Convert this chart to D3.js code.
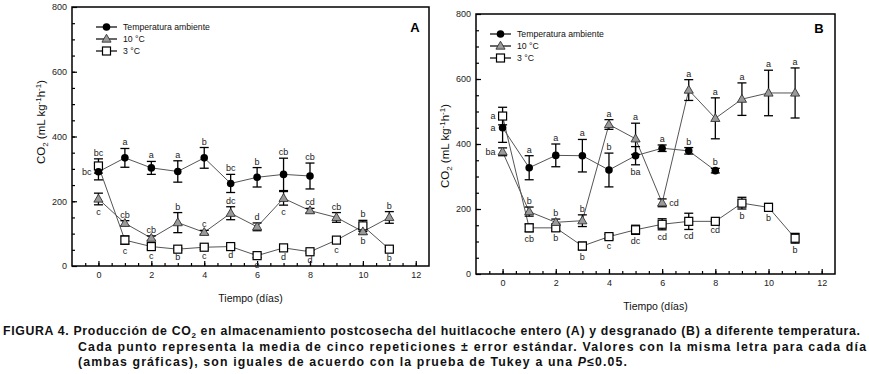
<!DOCTYPE html>
<html>
<head>
<meta charset="utf-8">
<script src="https://cdn.jsdelivr.net/npm/d3@7"></script>
<style>
body { margin: 0; background: #fff; }
svg { display: block; font-family: "Liberation Sans", Arial, sans-serif; }
</style>
</head>
<body>
<div id="chart"></div>
<script>
// Days
const days = d3.range(0, 12);
const daysAmbient = d3.range(0, 9);

// Series names
const seriesNames = ["Temperatura ambiente", "10 \u00B0C", "3 \u00B0C"];

// Axis ticks
const yMajorTicks = [0, 200, 400, 600, 800];
const xMajorTicks = [0, 2, 4, 6, 8, 10, 12];

// Panel A (entero)
const aAmbientMean = [291, 334, 303, 292, 334, 255, 274, 283, 278];
const aAmbientErr = [25, 29, 20, 33, 32, 28, 30, 50, 40];
const aAmbientLetters = ["bc", "a", "a", "a", "b", "bc", "b", "cb", "cb"];
const aAmbientPos = ["l", "u", "u", "u", "u", "u", "u", "u", "u"];

const a10Mean = [207, 132, 86, 134, 104, 163, 121, 209, 171, 150, 106, 150];
const a10Err = [18, 8, 7, 31, 6, 20, 12, 21, 7, 15, 8, 18];
const a10Letters = ["c", "cb", "cb", "b", "c", "dc", "d", "c", "cd", "cb", "b", "b"];
const a10Pos = ["d", "u", "u", "u", "u", "u", "u", "d", "u", "u", "d", "u"];

const a3Mean = [309, 80, 60, 52, 58, 60, 32, 56, 44, 80, 124, 52];
const a3Err = [22, 13, 8, 4, 6, 5, 6, 6, 4, 8, 17, 6];
const a3Letters = ["bc", "c", "c", "b", "c", "d", "e", "d", "d", "c", "b", "b"];
const a3Pos = ["u", "d", "d", "d", "d", "d", "d", "d", "d", "d", "u", "d"];

// Panel B (desgranado)
const bAmbientMean = [450, 327, 365, 364, 320, 364, 387, 379, 318];
const bAmbientErr = [45, 37, 35, 50, 52, 28, 10, 10, 7];
const bAmbientLetters = ["a", "a", "a", "a", "b", "ba", "a", "b", "b"];
const bAmbientPos = ["l", "u", "u", "u", "u", "d", "u", "u", "u"];

const b10Mean = [376, 192, 159, 164, 460, 416, 219, 566, 479, 538, 557, 557];
const b10Err = [12, 14, 10, 18, 15, 48, 12, 32, 63, 50, 70, 77];
const b10Letters = ["ba", "b", "b", "b", "a", "a", "cd", "a", "a", "a", "a", "a"];
const b10Pos = ["l", "u", "u", "u", "u", "u", "r", "u", "u", "u", "u", "u"];

const b3Mean = [486, 142, 142, 86, 115, 136, 153, 162, 162, 218, 205, 110];
const b3Err = [27, 12, 10, 12, 7, 14, 17, 25, 5, 18, 12, 15];
const b3Letters = ["a", "cb", "b", "b", "c", "dc", "cd", "cd", "cd", "b", "b", "b"];
const b3Pos = ["l", "d", "d", "d", "d", "d", "d", "d", "d", "d", "d", "d"];

const W = 869, H = 374;
const svg = d3.select("#chart").append("svg")
    .attr("width", W)
    .attr("height", H);

svg.append("rect").attr("width", W).attr("height", H).attr("fill", "#fff");

// draw one marker of a given type
function marker(g, type, cx, cy) {
    if (type === "circle") {
        g.append("circle").attr("cx", cx).attr("cy", cy).attr("r", 3.8).attr("fill", "#000");
    } else if (type === "tri") {
        g.append("path")
            .attr("d", d3.symbol(d3.symbolTriangle).size(36)())
            .attr("transform", `translate(${cx},${cy + 0.5})`)
            .attr("fill", "#9a9a9a")
            .attr("stroke", "#333")
            .attr("stroke-width", 0.9);
    } else {
        g.append("rect")
            .attr("x", cx - 4).attr("y", cy - 4)
            .attr("width", 8).attr("height", 8)
            .attr("fill", "#fff")
            .attr("stroke", "#000")
            .attr("stroke-width", 1.2);
    }
}

function drawPanel(p) {
    const x = d3.scaleLinear().domain([-1, 12.5]).range([p.left, p.right]);
    const y = d3.scaleLinear().domain([0, 800]).range([p.bottom, p.top]);
    const g = svg.append("g");

    const styleAxis = sel => {
        sel.select(".domain").remove();
        sel.selectAll("line").attr("stroke", "#000").attr("stroke-width", 1.2);
        sel.selectAll("text")
            .attr("fill", "#222")
            .style("font-size", "9px")
            .style("font-family", "'Liberation Sans', Arial, sans-serif");
    };

    // minor ticks
    g.append("g")
        .attr("transform", `translate(0,${p.bottom})`)
        .call(d3.axisBottom(x).tickValues(d3.range(-0.5, 12.5, 0.5)).tickSizeInner(-3).tickSizeOuter(0).tickFormat(""))
        .call(styleAxis);
    g.append("g")
        .attr("transform", `translate(${p.left},0)`)
        .call(d3.axisLeft(y).tickValues(d3.range(50, 800, 50)).tickSizeInner(-3).tickSizeOuter(0).tickFormat(""))
        .call(styleAxis);

    // major ticks
    g.append("g")
        .attr("transform", `translate(0,${p.bottom})`)
        .call(d3.axisBottom(x).tickValues(xMajorTicks).tickSizeInner(-5).tickSizeOuter(0).tickPadding(6))
        .call(styleAxis);
    g.append("g")
        .attr("transform", `translate(${p.left},0)`)
        .call(d3.axisLeft(y).tickValues(yMajorTicks).tickSizeInner(-5).tickSizeOuter(0).tickPadding(5))
        .call(styleAxis);

    // frame
    g.append("rect")
        .attr("x", p.left).attr("y", p.top)
        .attr("width", p.right - p.left).attr("height", p.bottom - p.top)
        .attr("fill", "none")
        .attr("stroke", "#000")
        .attr("stroke-width", 1.5);

    // series lines
    p.series.forEach(s => {
        const pts = s.days.map((d, i) => [x(d), y(s.mean[i])]);
        g.append("path")
            .attr("d", d3.line()(pts))
            .attr("fill", "none")
            .attr("stroke", "#555")
            .attr("stroke-width", 1);
    });

    // error bars
    p.series.forEach(s => {
        s.days.forEach((d, i) => {
            const cx = x(d), y1 = y(s.mean[i] + s.err[i]), y2 = y(s.mean[i] - s.err[i]);
            g.append("line").attr("x1", cx).attr("x2", cx).attr("y1", y1).attr("y2", y2)
                .attr("stroke", "#000").attr("stroke-width", 1.3);
            [y1, y2].forEach(yy => {
                g.append("line").attr("x1", cx - 4.5).attr("x2", cx + 4.5).attr("y1", yy).attr("y2", yy)
                    .attr("stroke", "#000").attr("stroke-width", 1.3);
            });
        });
    });

    // markers
    p.series.forEach(s => {
        s.days.forEach((d, i) => marker(g, s.type, x(d), y(s.mean[i])));
    });

    // letters
    p.series.forEach(s => {
        s.days.forEach((d, i) => {
            const pos = s.pos[i];
            let tx = x(d), ty, anchor = "middle";
            if (pos === "u") ty = y(s.mean[i] + s.err[i]) - 3;
            else if (pos === "d") ty = y(s.mean[i] - s.err[i]) + 10;
            else if (pos === "l") { tx -= 7; ty = y(s.mean[i]) + 3; anchor = "end"; }
            else { tx += 7; ty = y(s.mean[i]) + 3; anchor = "start"; }
            g.append("text")
                .attr("x", tx).attr("y", ty)
                .attr("text-anchor", anchor)
                .style("font-size", "9px")
                .attr("fill", "#222")
                .text(s.letters[i]);
        });
    });

    // legend (circle, triangle, square order)
    const legOrder = ["circle", "tri", "square"];
    legOrder.forEach((t, k) => {
        const ly = p.legY + k * 12;
        g.append("line")
            .attr("x1", p.legX).attr("x2", p.legX + 21)
            .attr("y1", ly).attr("y2", ly)
            .attr("stroke", "#000").attr("stroke-width", 1.2);
        marker(g, t, p.legX + 10.5, ly);
        g.append("text")
            .attr("x", p.legX + 27).attr("y", ly + 3)
            .style("font-size", "8.7px")
            .attr("fill", "#111")
            .text(seriesNames[k]);
    });

    // panel letter
    g.append("text")
        .attr("x", p.tagX).attr("y", p.tagY)
        .attr("text-anchor", "middle")
        .style("font-size", "13px")
        .style("font-weight", "bold")
        .text(p.tag);

    // axis titles
    g.append("text")
        .attr("x", (p.left + p.right) / 2)
        .attr("y", p.bottom + 36)
        .attr("text-anchor", "middle")
        .style("font-size", "10.5px")
        .attr("fill", "#111")
        .text("Tiempo (d\u00EDas)");

    const yt = g.append("text")
        .attr("transform", `translate(${p.left - 27},${p.yTitleY}) rotate(-90)`)
        .attr("text-anchor", "middle")
        .style("font-size", "11.5px")
        .attr("fill", "#111");
    yt.append("tspan").text("CO");
    yt.append("tspan").attr("dy", 3).style("font-size", "8px").text("2");
    yt.append("tspan").attr("dy", -3).text(" (mL kg");
    yt.append("tspan").attr("dy", -4).style("font-size", "8px").text("-1");
    yt.append("tspan").attr("dy", 4).text("h");
    yt.append("tspan").attr("dy", -4).style("font-size", "8px").text("-1");
    yt.append("tspan").attr("dy", 4).text(")");
}

drawPanel({
    left: 72, right: 429, top: 7, bottom: 266,
    legX: 96, legY: 27, tag: "A", tagX: 415, tagY: 32, yTitleY: 122,
    series: [
        { type: "square", days: days, mean: a3Mean, err: a3Err, letters: a3Letters, pos: a3Pos },
        { type: "tri", days: days, mean: a10Mean, err: a10Err, letters: a10Letters, pos: a10Pos },
        { type: "circle", days: daysAmbient, mean: aAmbientMean, err: aAmbientErr, letters: aAmbientLetters, pos: aAmbientPos }
    ]
});

drawPanel({
    left: 476, right: 835, top: 14, bottom: 274,
    legX: 490, legY: 34, tag: "B", tagX: 819, tagY: 33, yTitleY: 146,
    series: [
        { type: "square", days: days, mean: b3Mean, err: b3Err, letters: b3Letters, pos: b3Pos },
        { type: "tri", days: days, mean: b10Mean, err: b10Err, letters: b10Letters, pos: b10Pos },
        { type: "circle", days: daysAmbient, mean: bAmbientMean, err: bAmbientErr, letters: bAmbientLetters, pos: bAmbientPos }
    ]
});

// Caption
const cap = svg.append("g")
    .style("font-size", "12.3px")
    .style("font-weight", "bold")
    .attr("fill", "#111");

const l1 = cap.append("text").attr("x", 3).attr("y", 335)
    .attr("textLength", 857).attr("lengthAdjust", "spacing");
l1.append("tspan").text("FIGURA 4. Producci\u00F3n de CO");
l1.append("tspan").attr("dy", 3).style("font-size", "8px").text("2");
l1.append("tspan").attr("dy", -3).text(" en almacenamiento postcosecha del huitlacoche entero (A) y desgranado (B) a diferente temperatura.");

cap.append("text").attr("x", 78).attr("y", 350.5)
    .attr("textLength", 788).attr("lengthAdjust", "spacing")
    .text("Cada punto representa la media de cinco repeticiones \u00B1 error est\u00E1ndar. Valores con la misma letra para cada d\u00EDa");

const l3 = cap.append("text").attr("x", 78).attr("y", 366)
    .attr("textLength", 549).attr("lengthAdjust", "spacing");
l3.append("tspan").text("(ambas gr\u00E1ficas), son iguales de acuerdo con la prueba de Tukey a una ");
l3.append("tspan").style("font-style", "italic").text("P");
l3.append("tspan").text("\u22640.05.");
</script>
</body>
</html>
